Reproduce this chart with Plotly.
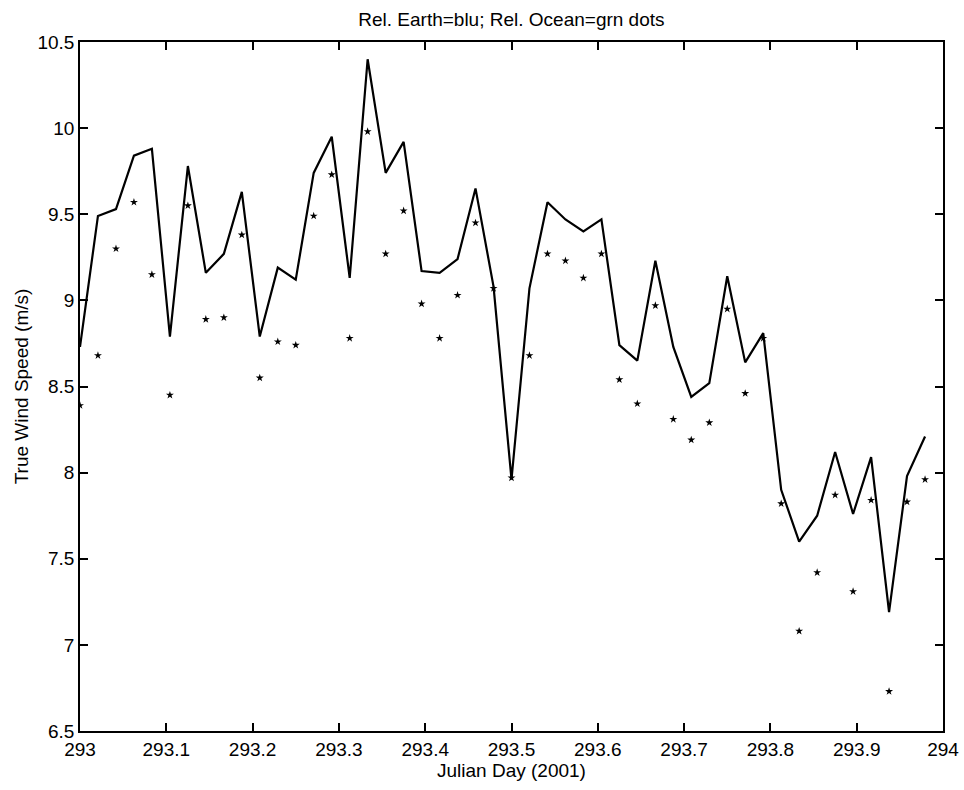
import plotly.graph_objects as go

# Julian day sample times (30-min samples)
julian_day = [
    293.0000, 293.0208, 293.0417, 293.0625, 293.0833, 293.1042, 293.1250, 293.1458,
    293.1667, 293.1875, 293.2083, 293.2292, 293.2500, 293.2708, 293.2917, 293.3125,
    293.3333, 293.3542, 293.3750, 293.3958, 293.4167, 293.4375, 293.4583, 293.4792,
    293.5000, 293.5208, 293.5417, 293.5625, 293.5833, 293.6042, 293.6250, 293.6458,
    293.6667, 293.6875, 293.7083, 293.7292, 293.7500, 293.7708, 293.7917, 293.8125,
    293.8333, 293.8542, 293.8750, 293.8958, 293.9167, 293.9375, 293.9583, 293.9792,
]

# True wind speed relative to Earth (line)
rel_earth = [
    8.73, 9.49, 9.53, 9.84, 9.88, 8.79, 9.78, 9.16,
    9.27, 9.63, 8.79, 9.19, 9.12, 9.74, 9.95, 9.13,
    10.40, 9.74, 9.92, 9.17, 9.16, 9.24, 9.65, 9.08,
    7.96, 9.07, 9.57, 9.47, 9.40, 9.47, 8.74, 8.65,
    9.23, 8.73, 8.44, 8.52, 9.14, 8.64, 8.81, 7.90,
    7.60, 7.75, 8.12, 7.76, 8.09, 7.19, 7.98, 8.21,
]

# True wind speed relative to Ocean (dots)
rel_ocean = [
    8.39, 8.68, 9.30, 9.57, 9.15, 8.45, 9.55, 8.89,
    8.90, 9.38, 8.55, 8.76, 8.74, 9.49, 9.73, 8.78,
    9.98, 9.27, 9.52, 8.98, 8.78, 9.03, 9.45, 9.07,
    7.97, 8.68, 9.27, 9.23, 9.13, 9.27, 8.54, 8.40,
    8.97, 8.31, 8.19, 8.29, 8.95, 8.46, 8.78, 7.82,
    7.08, 7.42, 7.87, 7.31, 7.84, 6.73, 7.83, 7.96,
]

FONT = "Liberation Sans, Arial, sans-serif"

fig = go.Figure()
fig.add_trace(go.Scatter(
    x=julian_day, y=rel_earth, mode="lines",
    line=dict(color="black", width=2.2), showlegend=False,
))
fig.add_trace(go.Scatter(
    x=julian_day, y=rel_ocean, mode="markers",
    marker=dict(color="black", size=6, symbol="star",
                line=dict(width=0)), showlegend=False,
))

axis_common = dict(
    showgrid=False, zeroline=False, showline=True, linecolor="black", linewidth=1.5,
    mirror="ticks", ticks="inside", ticklen=8, tickcolor="black", tickwidth=1.5,
    tickfont=dict(family=FONT, size=19, color="black"), automargin=False,
)

fig.update_layout(
    width=964, height=790,
    margin=dict(l=80, r=21, t=42, b=59),
    paper_bgcolor="white", plot_bgcolor="white",
    title=dict(text="Rel. Earth=blu; Rel. Ocean=grn dots", x=0.5305, xanchor="center",
               y=0.976, yanchor="middle",
               font=dict(family=FONT, size=19, color="black")),
    xaxis=dict(range=[293, 294], tick0=293, dtick=0.1,
               title=dict(text="Julian Day (2001)", standoff=2,
                          font=dict(family=FONT, size=19, color="black")),
               **axis_common),
    yaxis=dict(range=[6.5, 10.5], tick0=6.5, dtick=0.5,
               title=dict(text="True Wind Speed (m/s)", standoff=4,
                          font=dict(family=FONT, size=19, color="black")),
               **axis_common),
)

fig.write_html(
    "out.html",
    config={"displayModeBar": False},
    post_script="document.body.style.margin='0';document.body.style.overflow='hidden';",
)
